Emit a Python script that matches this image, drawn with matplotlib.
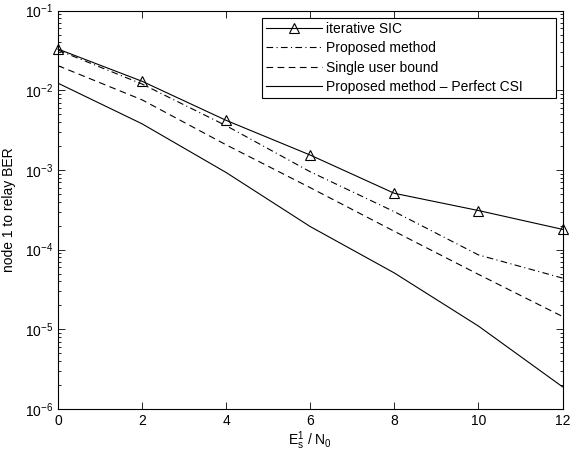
import matplotlib
matplotlib.use("Agg")
import matplotlib.pyplot as plt
from matplotlib.ticker import LogLocator, NullFormatter

plt.rcParams['font.family'] = ['Liberation Sans', 'DejaVu Sans']
plt.rcParams['mathtext.fontset'] = 'custom'
plt.rcParams['mathtext.rm'] = 'Liberation Sans'
plt.rcParams['mathtext.it'] = 'Liberation Sans'
plt.rcParams['mathtext.bf'] = 'Liberation Sans'

snr = [0, 2, 4, 6, 8, 10, 12]
iterative_sic = [0.033, 0.013, 0.0042, 0.00154, 0.00051, 0.00031, 0.00018]
proposed = [0.032, 0.012, 0.0036, 0.00095, 0.0003, 8.6e-5, 4.4e-5]
single_user = [0.0204, 0.0076, 0.00207, 0.0006, 0.00017, 4.9e-5, 1.45e-5]
perfect_csi = [0.0123, 0.0038, 0.00093, 0.000195, 5.1e-5, 1.1e-5, 1.9e-6]

labels = ['iterative SIC', 'Proposed method', 'Single user bound',
          'Proposed method – Perfect CSI']

fig = plt.figure(figsize=(5.73, 4.51), dpi=100)
ax = fig.add_axes([0.1012, 0.0931, 0.8805, 0.8832])

lw = 0.8
ax.plot(snr, iterative_sic, '-', color='black', lw=lw, marker='^',
        markersize=7, markerfacecolor='none', markeredgecolor='black',
        markeredgewidth=0.8, label=labels[0], clip_on=False, zorder=5)
ax.plot(snr, proposed, color='black', lw=lw, dashes=[6, 3, 1, 3], label=labels[1])
ax.plot(snr, single_user, color='black', lw=lw, dashes=[6, 4], label=labels[2])
ax.plot(snr, perfect_csi, '-', color='black', lw=lw, label=labels[3])

ax.set_yscale('log')
ax.set_xlim(0, 12)
ax.set_ylim(1e-6, 1e-1)
ax.set_xticks(snr)
ax.yaxis.set_major_locator(LogLocator(base=10, numticks=10))
ax.yaxis.set_minor_locator(LogLocator(base=10, subs=range(2, 10), numticks=20))
ax.yaxis.set_minor_formatter(NullFormatter())

ax.tick_params(which='both', direction='in', top=True, right=True,
               labelsize=10, width=0.6)
ax.tick_params(which='major', length=5)
ax.tick_params(which='minor', length=2.5)
for s in ax.spines.values():
    s.set_linewidth(0.8)

ax.set_xlabel(r'$\mathregular{E_s^1}$ / $\mathregular{N_0}$', fontsize=10, labelpad=1)
ax.set_ylabel('node 1 to relay BER', fontsize=10, labelpad=6)

leg = ax.legend(loc='upper left', bbox_to_anchor=(0.4044, 0.982, 0.5828, 0),
                mode='expand', fontsize=10, handlelength=4.0,
                fancybox=False, edgecolor='black', framealpha=1,
                borderpad=0.3, labelspacing=0.38, handletextpad=0.3,
                borderaxespad=0)
leg.get_frame().set_linewidth(0.8)

fig.savefig('out.png', dpi=100)
